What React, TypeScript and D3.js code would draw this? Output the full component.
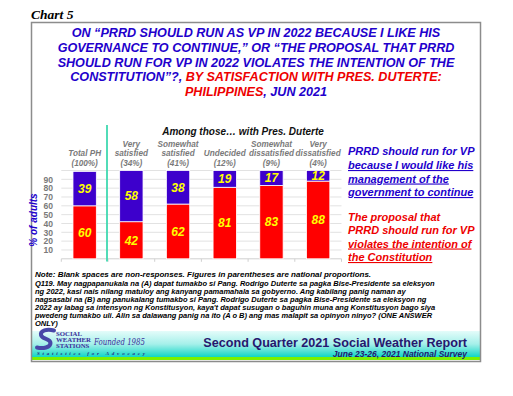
// @ts-nocheck
import React from 'react'
import * as d3 from 'd3'

// categories and labels
const categories = ['Total PH', 'Very satisfied', 'Somewhat satisfied', 'Undecided', 'Somewhat dissatisfied', 'Very dissatisfied']
const catLines = [['Total PH'], ['Very', 'satisfied'], ['Somewhat', 'satisfied'], ['Undecided'], ['Somewhat', 'dissatisfied'], ['Very', 'dissatisfied']]
const shares = ['(100%)', '(34%)', '(41%)', '(12%)', '(9%)', '(4%)']

// series values (% of adults)
const shouldRun = [39, 58, 38, 19, 17, 12]
const violates = [60, 42, 62, 81, 83, 88]

const yTicks = [10, 20, 30, 40, 50, 60, 70, 80, 90]

const noteLines = [
    'Q119. May nagpapanukala na (A) dapat tumakbo si Pang. Rodrigo Duterte sa pagka Bise-Presidente sa eleksyon',
    'ng 2022, kasi nais nilang matuloy ang kanyang pamamahala sa gobyerno. Ang kabilang panig naman ay',
    'nagsasabi na (B) ang panukalang tumakbo si Pang. Rodrigo Duterte sa pagka Bise-Presidente sa eleksyon ng',
    "2022 ay labag sa intensyon ng Konstitusyon, kaya't dapat susugan o baguhin muna ang Konstitusyon bago siya",
    'pwedeng tumakbo uli. Alin sa dalawang panig na ito (A o B) ang mas malapit sa opinyon ninyo? (ONE ANSWER',
    'ONLY)',
]

const BLUE = '#3d00cc'
const RED = '#ff0000'
const TITLE_BLUE = '#2200cc'
const TITLE_RED = '#ee0000'
const GREY = '#7a7a7a'
const sans = 'Arial, "Liberation Sans", sans-serif'

export default function App() {
    const x = d3.scaleBand().domain(categories).range([61.3, 341.5]).paddingInner(0.5).paddingOuter(0.25)
    const y = d3.scaleLinear().domain([0, 100]).range([258.8, 170.5])
    const step = x.step()
    const bw = x.bandwidth()

    const sepX = x(categories[1]) - (step - bw) / 2 - 1

    return (
        <svg width={513} height={396} style={{ position: 'absolute', left: 0, top: 0, background: '#fff' }}
            fontFamily={sans}>
            <defs>
                <linearGradient id="foot" x1="0" y1="0" x2="0" y2="1">
                    <stop offset="0" stopColor="#e4fcfa" />
                    <stop offset="0.5" stopColor="#a6f0ea" />
                    <stop offset="1" stopColor="#10d6c6" />
                </linearGradient>
            </defs>

            <text x={31} y={19} fontFamily='"Liberation Serif", "Times New Roman", serif' fontWeight="bold"
                fontStyle="italic" fontSize={13.5}>Chart 5</text>

            {/* footer band */}
            <rect x={32} y={331} width={448} height={26} fill="url(#foot)" />
            <rect x={32} y={357} width={448} height={3} fill="#7cf000" />

            <rect x={31.5} y={22.5} width={449} height={339} fill="none" stroke="#8c8c8c" strokeWidth={1.5} />

            {/* title */}
            <g fontWeight="bold" fontStyle="italic" fontSize={12.6} textAnchor="middle" fill={TITLE_BLUE}>
                <text x={256} y={37}>ON “PRRD SHOULD RUN AS VP IN 2022 BECAUSE I LIKE HIS</text>
                <text x={256} y={52}>GOVERNANCE TO CONTINUE,” OR “THE PROPOSAL THAT PRRD</text>
                <text x={256} y={67}>SHOULD RUN FOR VP IN 2022 VIOLATES THE INTENTION OF THE</text>
                <text x={256} y={81}>CONSTITUTION”?, <tspan fill={TITLE_RED}>BY SATISFACTION WITH PRES. DUTERTE:</tspan></text>
                <text x={256} y={96}><tspan fill={TITLE_RED}>PHILIPPINES</tspan>, JUN 2021</text>
            </g>

            {/* grid */}
            {[...yTicks, 100].map(t => (
                <line key={t} x1={61.3} x2={341.5} y1={y(t)} y2={y(t)} stroke="#e2e2e2" strokeWidth={1} />
            ))}
            <line x1={61.3} x2={341.5} y1={y(0)} y2={y(0)} stroke="#d0d0d0" strokeWidth={1} />
            {d3.range(categories.length + 1).map(i => (
                <line key={i} x1={61.3 + i * step} x2={61.3 + i * step} y1={y(0)} y2={y(0) + 3} stroke="#d0d0d0" />
            ))}

            {/* y axis */}
            <g fontWeight="bold" fontSize={8.6} fill={GREY} textAnchor="end">
                {yTicks.map(t => (
                    <text key={t} x={53} y={y(t) + 3.2}>{t}</text>
                ))}
            </g>
            <text transform={`translate(36.5,220) rotate(-90)`} textAnchor="middle" fontWeight="bold"
                fontStyle="italic" fontSize={10} fill={TITLE_BLUE}>% of adults</text>

            {/* separator */}
            <line x1={sepX} x2={sepX} y1={125} y2={261.5} stroke="#3fd9b0" strokeWidth={1.8} />

            {/* bars */}
            {categories.map((c, i) => {
                const r = violates[i]
                const b = shouldRun[i]
                return (
                    <g key={c}>
                        <rect x={x(c)} y={y(r)} width={bw} height={y(0) - y(r)} fill={RED} stroke="#fff" strokeWidth={0.8} />
                        <rect x={x(c)} y={y(r + b)} width={bw} height={y(r) - y(r + b)} fill={BLUE} stroke="#fff" strokeWidth={0.8} />
                    </g>
                )
            })}

            {/* value labels */}
            <g fontWeight="bold" fontStyle="italic" fontSize={12} fill="#ffff00" textAnchor="middle">
                {categories.map((c, i) => {
                    const r = violates[i]
                    const b = shouldRun[i]
                    const cx = x(c) + bw / 2
                    return (
                        <g key={c}>
                            <text x={cx} y={y(r / 2) + 4.3}>{r}</text>
                            <text x={cx} y={y(r + b / 2) + 4.3}>{b}</text>
                        </g>
                    )
                })}
            </g>

            {/* category labels */}
            <text x={243} y={134.5} textAnchor="middle" fontWeight="bold" fontStyle="italic" fontSize={10}
                fill="#111">Among those… with Pres. Duterte</text>
            <g fontWeight="bold" fontStyle="italic" fontSize={8.2} fill={GREY} textAnchor="middle">
                {categories.map((c, i) => {
                    const cx = x(c) + bw / 2
                    const lines = catLines[i]
                    return (
                        <g key={c}>
                            {lines.map((l, j) => (
                                <text key={j} x={cx} y={156 - (lines.length - 1 - j) * 9.5}>{l}</text>
                            ))}
                            <text x={cx} y={165.5}>{shares[i]}</text>
                        </g>
                    )
                })}
            </g>

            {/* legend */}
            <g fontWeight="bold" fontStyle="italic" fontSize={11}>
                <g fill={TITLE_BLUE}>
                    <text x={348} y={155}>PRRD should run for VP</text>
                    <text x={348} y={169} textDecoration="underline">because I would like his</text>
                    <text x={348} y={182.5} textDecoration="underline">management of the</text>
                    <text x={348} y={196} textDecoration="underline">government to continue</text>
                </g>
                <g fill={TITLE_RED}>
                    <text x={348} y={220.5}>The proposal that</text>
                    <text x={348} y={234}>PRRD should run for VP</text>
                    <text x={348} y={247.5} textDecoration="underline">violates the intention of</text>
                    <text x={348} y={261} textDecoration="underline">the Constitution</text>
                </g>
            </g>

            {/* notes */}
            <g fontWeight="bold" fontStyle="italic" fill="#000">
                <text x={35} y={276.5} fontSize={8}>Note: Blank spaces are non-responses. Figures in parentheses are national proportions.</text>
                {noteLines.map((l, i) => (
                    <text key={i} x={35} y={285.5 + i * 8} fontSize={7.5}>{l}</text>
                ))}
            </g>

            {/* footer logo: stylised S swoosh */}
            <path d="M54,330.5 C47,328.5 40,330.5 41,335 C42,339.5 50.5,338.5 50.5,343 C50.5,347.5 43,349 37,347.5"
                fill="none" stroke="#4848a8" strokeWidth={4} strokeLinecap="round" />
            <g fontFamily='"Liberation Serif", serif' fontWeight="bold" fontSize={6.8} fill="#3a2f9a">
                <text x={56} y={335.5}>SOCIAL</text>
                <text x={56} y={341.6}>WEATHER</text>
                <text x={56} y={347.8}>STATIONS</text>
            </g>
            <text x={94} y={344.5} fontFamily='"DejaVu Serif", serif' fontStyle="italic" fontSize={9.5}
                textLength={51} lengthAdjust="spacingAndGlyphs" fill="#3a2f9a">Founded 1985</text>
            <text x={37} y={355.2} fontFamily='"Liberation Serif", serif' fontWeight="bold" fontStyle="italic"
                fontSize={5} textLength={108} fill="#2a2a80">Statistics for Advocacy</text>

            <text x={467} y={346.5} textAnchor="end" fontWeight="bold" fontSize={12.6} fill="#26186e">Second Quarter 2021 Social Weather Report</text>
            <text x={467} y={356.5} textAnchor="end" fontWeight="bold" fontStyle="italic" fontSize={8.5}
                fill="#26186e">June 23-26, 2021 National Survey</text>
        </svg>
    )
}
